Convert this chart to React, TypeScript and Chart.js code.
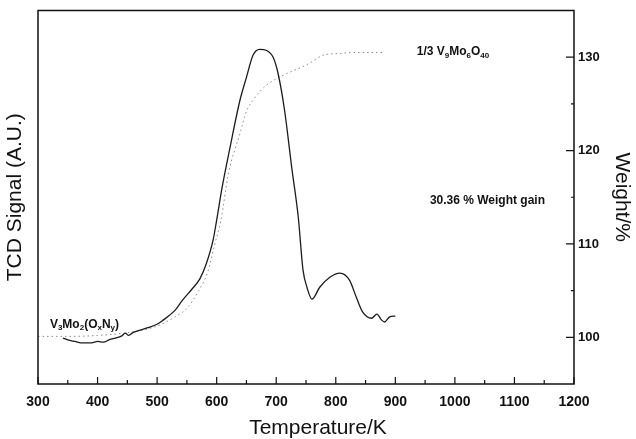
import React, { useEffect, useRef } from 'react';
import { Chart, registerables } from 'chart.js';

Chart.register(...registerables);

const FONT = '"Liberation Sans", Arial, Helvetica, sans-serif';

// Temperature axis (K)
const tempRange = [300, 1200];
// Right axis: weight %
const weightRange = [95, 135];
// Left axis: TCD signal (arbitrary units)
const tcdRange = [0, 100];

// TCD signal curve (solid)
const tcdTemps = [
  342, 350, 362, 375, 390, 400, 410, 420, 430, 440, 447, 452, 460, 483, 500, 510, 530, 543, 558, 572,
  583, 594, 600, 609, 622, 639, 650, 661, 672, 684, 695, 703, 714, 726, 737, 745, 752, 760, 773, 790,
  807, 823, 835, 845, 860, 869, 877, 882, 890, 900,
];
const tcdSignal = [
  12.3, 11.8, 11.4, 11.0, 11.0, 11.4, 11.2, 11.9, 12.3, 12.8, 13.6, 13.0, 13.8, 15.0, 16.0, 17.1, 19.7, 22.5, 25.3, 28.2,
  32.4, 38.5, 43.9, 52.5, 63.0, 75.9, 82.1, 88.0, 89.6, 89.3, 87.4, 83.2, 73.3, 58.0, 44.7, 30.5, 25.7, 22.7, 25.9, 28.6,
  29.7, 27.8, 23.0, 19.3, 17.6, 18.7, 17.1, 16.6, 17.9, 18.2,
];

// Weight curve (dotted)
const weightTemps = [
  300, 350, 400, 450, 500, 530, 550, 570, 585, 597, 607, 620, 639, 650, 661, 680, 695, 723, 745, 757,
  778, 807, 830, 855, 879,
];
const weightPct = [
  100.1, 100.1, 100.2, 100.5, 101.2, 102.2, 103.1, 105.0, 107.0, 110.0, 112.5, 117.6, 121.8, 124.2, 125.4, 126.8, 127.5, 128.4, 129.0, 129.4,
  130.2, 130.4, 130.5, 130.5, 130.5,
];

// Annotations (text segments; sub = subscript)
type Seg = { t: string; sub?: boolean };
const annotationTexts: Seg[][] = [
  [{ t: '1/3 V' }, { t: '9', sub: true }, { t: 'Mo' }, { t: '6', sub: true }, { t: 'O' }, { t: '40', sub: true }],
  [{ t: '30.36 % Weight gain' }],
  [{ t: 'V' }, { t: '3', sub: true }, { t: 'Mo' }, { t: '2', sub: true }, { t: '(O' }, { t: 'x', sub: true }, { t: 'N' }, { t: 'y', sub: true }, { t: ')' }],
];
const annotationTemp = [936, 958, 320];
const annotationWeight = [130.6, 114.6, 101.4];
const annotationSize = [12, 12, 12];

const frameTicksPlugin = {
  id: 'frameTicks',
  afterDatasetsDraw(chart: any) {
    const { ctx, chartArea: a, scales } = chart;
    ctx.save();
    ctx.strokeStyle = '#111';
    ctx.lineWidth = 1.5;
    ctx.strokeRect(a.left, a.top, a.right - a.left, a.bottom - a.top);
    ctx.lineWidth = 1.2;
    ctx.beginPath();
    const x = scales.x;
    const xv = x.ticks.map((t: any) => t.value);
    xv.forEach((v: number, i: number) => {
      const p = x.getPixelForValue(v);
      ctx.moveTo(p, a.bottom);
      ctx.lineTo(p, a.bottom - 7);
      if (i < xv.length - 1) {
        const m = x.getPixelForValue((v + xv[i + 1]) / 2);
        ctx.moveTo(m, a.bottom);
        ctx.lineTo(m, a.bottom - 4);
      }
    });
    const y1 = scales.y1;
    y1.ticks.forEach((t: any) => {
      const v = t.value;
      const p = y1.getPixelForValue(v);
      if (v % 10 === 0) {
        ctx.moveTo(a.right, p);
        ctx.lineTo(a.right - 8, p);
      } else if (v !== y1.min && v !== y1.max) {
        ctx.moveTo(a.right, p);
        ctx.lineTo(a.right - 3, p);
      }
    });
    ctx.stroke();
    ctx.restore();
  },
};

const annotationPlugin = {
  id: 'richAnnotations',
  afterDatasetsDraw(chart: any) {
    const { ctx, scales } = chart;
    ctx.save();
    ctx.fillStyle = '#111';
    ctx.textBaseline = 'middle';
    ctx.textAlign = 'left';
    annotationTexts.forEach((segs, i) => {
      const size = annotationSize[i];
      let cx = scales.x.getPixelForValue(annotationTemp[i]);
      const cy = scales.y1.getPixelForValue(annotationWeight[i]);
      segs.forEach((s) => {
        const fs = s.sub ? Math.round(size * 0.68) : size;
        ctx.font = `bold ${fs}px ${FONT}`;
        ctx.fillText(s.t, cx, s.sub ? cy + size * 0.33 : cy);
        cx += ctx.measureText(s.t).width;
      });
    });
    ctx.restore();
  },
};

export default function App() {
  const ref = useRef<HTMLCanvasElement | null>(null);

  useEffect(() => {
    if (!ref.current) return;
    const chart = new Chart(ref.current, {
      type: 'line',
      data: {
        datasets: [
          {
            label: 'TCD signal',
            data: tcdTemps.map((t, i) => ({ x: t, y: tcdSignal[i] })),
            yAxisID: 'y',
            borderColor: '#1c1c1c',
            borderWidth: 1.3,
            pointRadius: 0,
            cubicInterpolationMode: 'monotone',
            fill: false,
          },
          {
            label: 'Weight',
            data: weightTemps.map((t, i) => ({ x: t, y: weightPct[i] })),
            yAxisID: 'y1',
            borderColor: '#8a8a8a',
            borderWidth: 1,
            borderDash: [1.5, 3],
            pointRadius: 0,
            cubicInterpolationMode: 'monotone',
            fill: false,
          },
        ],
      },
      options: {
        responsive: false,
        animation: false,
        layout: { padding: { top: 10, left: 0, right: 0, bottom: 0 } },
        plugins: {
          legend: { display: false },
          tooltip: { enabled: false },
          title: {
            display: true,
            text: 'Temperature/K',
            position: 'bottom',
            color: '#111',
            font: { family: FONT, size: 21, weight: 'normal', lineHeight: 1 },
            padding: { top: 0, bottom: 0 },
          },
        },
        scales: {
          x: {
            type: 'linear',
            position: 'bottom',
            min: tempRange[0],
            max: tempRange[1],
            grid: { display: false, drawTicks: false },
            border: { display: false },
            ticks: {
              stepSize: 100,
              autoSkip: false,
              maxRotation: 0,
              padding: 11,
              color: '#111',
              font: { family: FONT, size: 14, weight: 'bold', lineHeight: 1 },
              callback: (v: any) => String(v),
            },
            afterFit: (s: any) => {
              s.height = 34;
            },
          },
          y: {
            type: 'linear',
            position: 'left',
            min: tcdRange[0],
            max: tcdRange[1],
            grid: { display: false, drawTicks: false },
            border: { display: false },
            ticks: { display: false },
            title: {
              display: true,
              text: 'TCD Signal (A.U.)',
              color: '#111',
              font: { family: FONT, size: 21, weight: 'normal', lineHeight: 1 },
              padding: { top: 4.5, bottom: 0 },
            },
            afterFit: (s: any) => {
              s.width = 38;
            },
          },
          y1: {
            type: 'linear',
            position: 'right',
            min: weightRange[0],
            max: weightRange[1],
            grid: { display: false, drawTicks: false },
            border: { display: false },
            ticks: {
              stepSize: 5,
              autoSkip: false,
              padding: 4,
              color: '#111',
              font: { family: FONT, size: 13, weight: 'bold', lineHeight: 1 },
              callback: (v: any) => (Number(v) % 10 === 0 ? String(v) : ''),
            },
            title: {
              display: true,
              text: 'Weight/%',
              color: '#111',
              font: { family: FONT, size: 21, weight: 'normal', lineHeight: 1 },
              padding: { top: 3.5, bottom: 0 },
            },
            afterFit: (s: any) => {
              s.width = 62;
            },
          },
        },
      } as any,
      plugins: [frameTicksPlugin, annotationPlugin],
    });
    return () => chart.destroy();
  }, []);

  return (
    <div style={{ position: 'fixed', left: 0, top: 0, width: 636, height: 439, background: '#fff' }}>
      <canvas ref={ref} width={636} height={439} style={{ display: 'block' }} />
    </div>
  );
}
